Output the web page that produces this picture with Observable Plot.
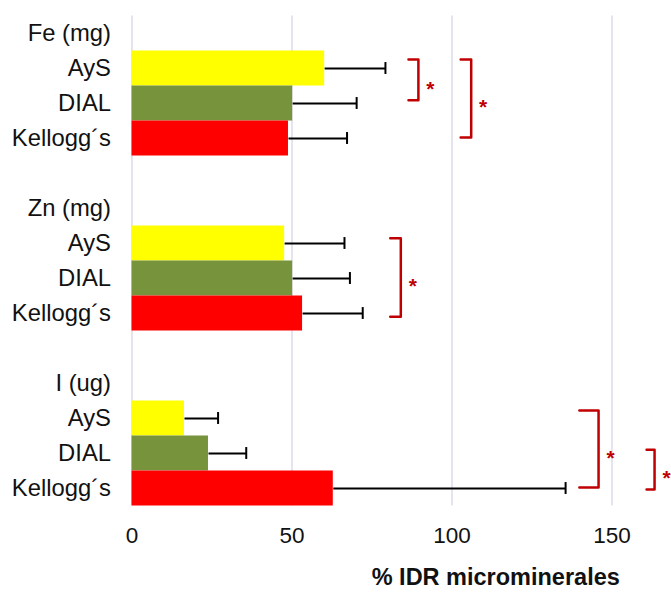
<!DOCTYPE html>
<html>
<head>
<meta charset="utf-8">
<script src="https://cdn.jsdelivr.net/npm/d3@7"></script>
<script src="https://cdn.jsdelivr.net/npm/@observablehq/plot@0.6"></script>
<style>
  html, body { margin: 0; padding: 0; background: #fff; }
  #chart svg { display: block; }
  #chart [aria-label^="y-axis"] text { font-size: 23.8px; }
  #chart [aria-label^="x-axis"] text { font-size: 22.5px; }
</style>
</head>
<body>
<div id="chart"></div>
<script>
// ---- data ----
const groups = ["Fe (mg)", "Zn (mg)", "I (ug)"];
const brands = ["AyS", "DIAL", "Kellogg´s"];
const brandColors = ["#ffff00", "#77933c", "#ff0000"];
const feMean = [60.2, 50.2, 48.9];
const feSd   = [19.0, 20.0, 18.3];
const znMean = [47.7, 50.2, 53.3];
const znSd   = [18.7, 17.9, 18.8];
const iMean  = [16.4, 23.9, 62.9];
const iSd    = [10.5, 11.8, 72.6];
const xTicks = [0, 50, 100, 150];
const xLabel = "% IDR microminerales";
// significance brackets: group, first and last brand, x of the bracket (in % IDR)
const sigGroup = ["Fe (mg)", "Fe (mg)", "Zn (mg)", "I (ug)", "I (ug)"];
const sigFrom  = ["AyS", "AyS", "AyS", "AyS", "DIAL"];
const sigTo    = ["DIAL", "Kellogg´s", "Kellogg´s", "Kellogg´s", "Kellogg´s"];
const sigX     = [89.5, 106.0, 84.0, 145.8, 163.3];
const sigArm   = [3.1, 3.3, 3.3, 6.0, 2.5];
const sigTopOff = [-0.26, -0.26, -0.15, -0.23, -0.11];
const sigBotOff = [-0.09, -0.03, 0.09, -0.03, 0.03];

// ---- derived tables ----
const means = [feMean, znMean, iMean];
const sds = [feSd, znSd, iSd];
const rowsPerGroup = brands.length + 2; // header + brands + gap
const rowOf = (g, b) => groups.indexOf(g) * rowsPerGroup + 1 + brands.indexOf(b);
const nRows = groups.length * rowsPerGroup - 1;
const rowLabels = d3.range(nRows).map(() => "");
groups.forEach((g, gi) => {
  rowLabels[gi * rowsPerGroup] = g;
  brands.forEach((b, bi) => rowLabels[rowOf(g, b)] = b);
});
const data = groups.flatMap((g, gi) => brands.map((b, bi) => ({
  group: g, brand: b, row: rowOf(g, b), mean: means[gi][bi], sd: sds[gi][bi]
})));
const sig = sigGroup.map((g, i) => ({
  id: i, x: sigX[i], arm: sigArm[i],
  y1: rowOf(g, sigFrom[i]) + sigTopOff[i],
  y2: rowOf(g, sigTo[i]) + sigBotOff[i]
}));
const bracketPts = sig.flatMap(s => [
  {id: s.id, x: s.x - s.arm, y: s.y1},
  {id: s.id, x: s.x, y: s.y1},
  {id: s.id, x: s.x, y: s.y2},
  {id: s.id, x: s.x - s.arm, y: s.y2}
]);

const W = 671, H = 593;
const marginLeft = 131.5, marginTop = 15.5, marginBottom = 87.5;
const pxPerUnit = 3.2;
const xMax = (W - marginLeft) / pxPerUnit;

const chart = Plot.plot({
  width: W,
  height: H,
  marginLeft, marginRight: 0, marginTop, marginBottom,
  style: {fontFamily: "'Liberation Sans', Arial, sans-serif", color: "#111", background: "#fff"},
  x: {domain: [0, xMax], ticks: xTicks, tickSize: 0, tickPadding: 21, label: null},
  y: {domain: [-0.5, nRows - 0.5], reverse: true, ticks: d3.range(nRows), tickFormat: i => rowLabels[i], tickSize: 0, tickPadding: 21, label: null},
  color: {domain: brands, range: brandColors},
  marks: [
    Plot.ruleX(xTicks, {stroke: "#dcd8e6", strokeWidth: 1.4}),
    Plot.rectX(data, {x1: 0, x2: "mean", y1: d => d.row - 0.5, y2: d => d.row + 0.5, fill: "brand"}),
    Plot.link(data, {x1: "mean", x2: d => d.mean + d.sd, y1: "row", y2: "row", stroke: "#000", strokeWidth: 1.8}),
    Plot.ruleX(data, {x: d => d.mean + d.sd, y1: d => d.row - 0.17, y2: d => d.row + 0.17, stroke: "#000", strokeWidth: 2}),
    Plot.line(bracketPts, {x: "x", y: "y", z: "id", stroke: "#c00000", strokeWidth: 2.5, strokeLinejoin: "round"}),
    Plot.text(sig, {x: "x", y: d => (d.y1 + d.y2) / 2, text: () => "*", dx: 12, dy: 9, fill: "#c00000", fontSize: 21, fontWeight: "bold"}),
    Plot.text([xLabel], {text: d => d, frameAnchor: "bottom", dx: 94, dy: 78.5, fontSize: 23.5, fontWeight: "bold", fill: "#111"})
  ]
});
document.getElementById("chart").appendChild(chart);
</script>
</body>
</html>
